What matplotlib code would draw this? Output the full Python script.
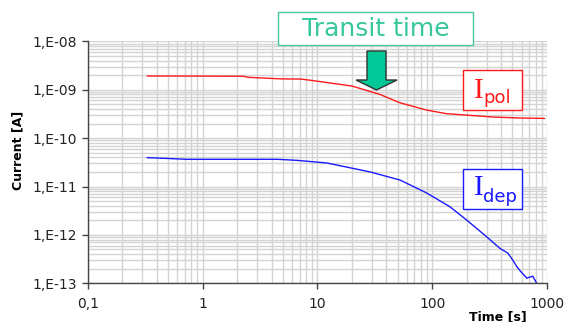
import matplotlib
matplotlib.use("Agg")
import matplotlib.pyplot as plt
from matplotlib.ticker import LogLocator, NullFormatter
from matplotlib.patches import Rectangle, FancyArrow

# polarisation current
t_pol = [0.33, 2.25, 2.5, 4.9, 7.1, 8.5, 20, 35, 52, 89, 133, 336, 575, 950]
i_pol = [1.92e-9, 1.9e-9, 1.8e-9, 1.67e-9, 1.66e-9, 1.58e-9, 1.19e-9, 8.0e-10,
         5.4e-10, 3.8e-10, 3.2e-10, 2.73e-10, 2.6e-10, 2.55e-10]

# depolarisation current
t_dep = [0.33, 0.73, 4.46, 6.65, 12.1, 28.8, 52.5, 90, 143, 201, 299, 388, 456,
         500, 546, 590, 667, 700, 752, 814]
i_dep = [3.95e-11, 3.65e-11, 3.65e-11, 3.47e-11, 3.06e-11, 2.0e-11, 1.36e-11,
         7.3e-12, 3.8e-12, 2.0e-12, 9.1e-13, 5.3e-13, 4.2e-13, 3.1e-13, 2.2e-13,
         1.75e-13, 1.28e-13, 1.33e-13, 1.4e-13, 1.0e-13]

x_ticks = [0.1, 1, 10, 100, 1000]
x_labels = ["0,1", "1", "10", "100", "1000"]
y_ticks = [1e-13, 1e-12, 1e-11, 1e-10, 1e-9, 1e-8]
y_labels = ["1,E-13", "1,E-12", "1,E-11", "1,E-10", "1,E-09", "1,E-08"]

W, H = 564, 322
fig = plt.figure(figsize=(W / 100, H / 100), dpi=100)
ax = fig.add_axes([87.7 / W, 1 - 283.3 / H, (547 - 87.7) / W, (283.3 - 41.3) / H])

ax.plot(t_pol, i_pol, color="#ff1a1a", lw=1.0)
ax.plot(t_dep, i_dep, color="#1a1aff", lw=1.0)

ax.set_xscale("log")
ax.set_yscale("log")
ax.set_xlim(0.1, 1000)
ax.set_ylim(1e-13, 1e-8)

ax.set_xticks(x_ticks)
ax.set_xticklabels(x_labels)
ax.set_yticks(y_ticks)
ax.set_yticklabels(y_labels)
ax.xaxis.set_minor_locator(LogLocator(base=10, subs=range(2, 10), numticks=20))
ax.yaxis.set_minor_locator(LogLocator(base=10, subs=range(2, 10), numticks=20))
ax.xaxis.set_minor_formatter(NullFormatter())
ax.yaxis.set_minor_formatter(NullFormatter())
ax.tick_params(which="minor", length=0)
ax.tick_params(which="major", length=4, width=1, color="#444444",
               labelsize=10, labelcolor="#222222", direction="out")
ax.tick_params(axis="x", pad=6)

ax.grid(True, which="both", color="#d4d4d4", lw=1.0)
ax.set_axisbelow(True)
for s in ["top", "right"]:
    ax.spines[s].set_visible(False)
for s in ["left", "bottom"]:
    ax.spines[s].set_color("#444444")
    ax.spines[s].set_linewidth(1.0)

fig.text(18 / W, 1 - 150 / H, "Current [A]", rotation=90, fontsize=9,
         fontweight="bold", ha="center", va="center")
fig.text(498 / W, 1 - 310 / H, "Time [s]", fontsize=9, fontweight="bold",
         ha="center", va="top")

# transit time label and arrow
teal = "#36c79d"
fig.patches.append(Rectangle((278 / W, 1 - 45 / H), 195 / W, 33 / H,
                             transform=fig.transFigure, fill=True,
                             facecolor="white", edgecolor="#44c9a2", lw=1.0))
fig.text(376 / W, 1 - 29 / H, "Transit time", fontsize=18, color=teal,
         ha="center", va="center")
fig.patches.append(FancyArrow(376.5 / W, 1 - 51 / H, 0, -39 / H,
                              width=19 / W, head_width=41 / W, head_length=10 / H,
                              length_includes_head=True, transform=fig.transFigure,
                              facecolor="#00c896", edgecolor="#333333", lw=1.0))

# curve labels
for (x0, y0, txt, col, yb_i, yb_s) in [(463, 70, "pol", "#ff1a1a", 98, 103),
                                       (463, 169, "dep", "#1a1aff", 195, 202)]:
    fig.patches.append(Rectangle((x0 / W, 1 - (y0 + 40) / H), 59 / W, 40 / H,
                                 transform=fig.transFigure, facecolor="white",
                                 edgecolor=col, lw=1.0))
    fig.text(474 / W, 1 - yb_i / H, "I", fontsize=21, color=col,
             family="Liberation Serif", ha="left", va="baseline")
    fig.text(483 / W, 1 - yb_s / H, txt, fontsize=13, color=col,
             ha="left", va="baseline")

fig.savefig("out.png", dpi=100)
